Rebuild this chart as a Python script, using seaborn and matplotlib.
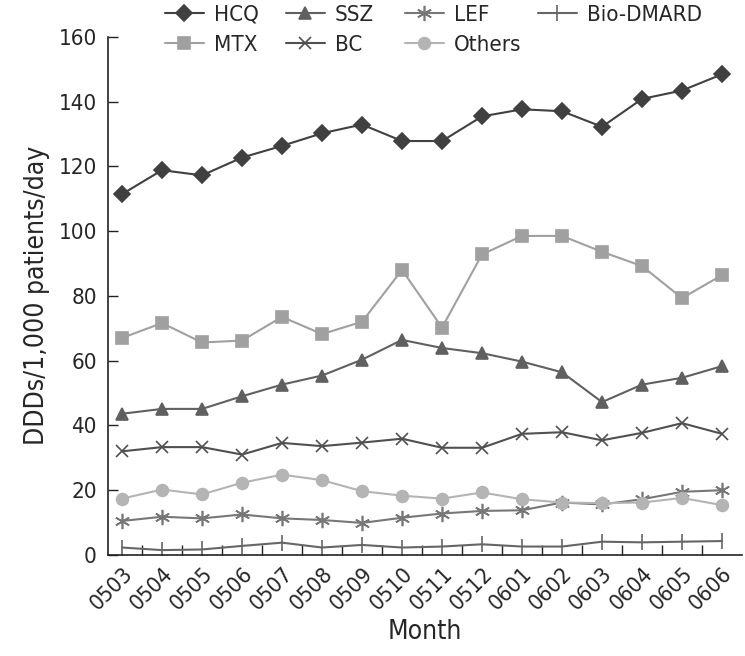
import numpy as np
import pandas as pd
import matplotlib
matplotlib.use("Agg")
import matplotlib.pyplot as plt
import seaborn as sns

months = ['0503', '0504', '0505', '0506', '0507', '0508', '0509', '0510',
          '0511', '0512', '0601', '0602', '0603', '0604', '0605', '0606']

hcq = [111.4, 118.8, 117.2, 122.7, 126.3, 130.2, 132.9, 127.8,
       127.8, 135.4, 137.6, 137.0, 132.2, 140.8, 143.4, 148.4]
mtx = [67.0, 71.6, 65.6, 66.2, 73.5, 68.2, 72.0, 88.0,
       70.2, 92.8, 98.5, 98.5, 93.6, 89.2, 79.3, 86.4]
ssz = [43.6, 45.1, 45.1, 49.0, 52.6, 55.4, 60.3, 66.4,
       63.9, 62.3, 59.7, 56.4, 47.2, 52.6, 54.7, 58.3]
bc = [32.0, 33.3, 33.3, 31.0, 34.6, 33.6, 34.7, 35.9,
      33.1, 33.1, 37.4, 37.9, 35.4, 37.7, 40.7, 37.4]
lef = [10.5, 11.8, 11.3, 12.5, 11.3, 10.8, 9.9, 11.5,
       12.8, 13.6, 13.8, 16.2, 15.6, 17.2, 19.5, 20.0]
others = [17.4, 20.2, 18.7, 22.3, 24.8, 23.1, 19.7, 18.3,
          17.4, 19.3, 17.2, 16.2, 16.0, 16.2, 17.6, 15.4]
bio = [2.3, 1.5, 1.7, 2.8, 3.8, 2.3, 3.1, 2.3,
       2.6, 3.3, 2.6, 2.6, 4.1, 3.9, 4.1, 4.3]

sns.set_style("ticks")
plt.rcParams['font.family'] = ['DejaVu Sans']
plt.rcParams['font.stretch'] = 'condensed'

series = [
    ('HCQ', hcq, '#404040', 'D', 8),
    ('MTX', mtx, '#a0a0a0', 's', 8),
    ('SSZ', ssz, '#606060', '^', 8),
    ('BC', bc, '#505050', 'x', 9),
    ('LEF', lef, '#777777', (6, 2, 0), 11),
    ('Others', others, '#b4b4b4', 'o', 8.5),
    ('Bio-DMARD', bio, '#666666', '|', 11),
]

fig, ax = plt.subplots(figsize=(7.45, 6.56), dpi=100)
fig.subplots_adjust(left=0.145, right=0.996, bottom=0.154, top=0.944)

x = np.arange(len(months))
handles = {}
for name, vals, color, marker, ms in series:
    df = pd.DataFrame({'x': x, 'y': vals})
    sns.lineplot(data=df, x='x', y='y', ax=ax, color=color, marker=marker,
                 markersize=ms, markeredgecolor=color, markeredgewidth=1.2,
                 linewidth=1.5, label=name, legend=False)
    handles[name] = ax.lines[-1]

ax.set_xlim(-0.35, 15.5)
ax.set_ylim(0, 160)
ax.set_yticks(range(0, 161, 20))
ax.set_xticks(x)
ax.set_xticklabels(months, rotation=45, ha='right', rotation_mode='anchor')
ax.set_xticks(np.arange(0.5, 15.5, 1), minor=True)
ax.tick_params(axis='x', which='major', length=0, labelsize=16, pad=6)
ax.tick_params(axis='x', which='minor', length=7, direction='in', width=1,
               color='#222222')
ax.tick_params(axis='y', labelsize=16, length=7, width=1, direction='in',
               color='#222222', pad=8)
ax.set_xlabel('Month', fontsize=19)
ax.set_ylabel('DDDs/1,000 patients/day', fontsize=19, labelpad=6)
sns.despine(ax=ax)
for s in ['left', 'bottom']:
    ax.spines[s].set_color('#222222')
    ax.spines[s].set_linewidth(1.2)

# one legend per column, placed like the reference
columns = [(['HCQ', 'MTX'], 165), (['SSZ', 'BC'], 286),
           (['LEF', 'Others'], 405), (['Bio-DMARD'], 538)]
legends = []
for names, px in columns:
    leg = ax.legend([handles[n] for n in names], names, loc='upper left',
                    bbox_to_anchor=(px / 745, 0.993), bbox_transform=fig.transFigure,
                    frameon=False, fontsize=16, handlelength=1.75,
                    handletextpad=0.45, labelspacing=0.45, borderaxespad=0,
                    borderpad=0.0)
    legends.append(leg)
for leg in legends[:-1]:
    ax.add_artist(leg)

fig.savefig('out.png', dpi=100)
